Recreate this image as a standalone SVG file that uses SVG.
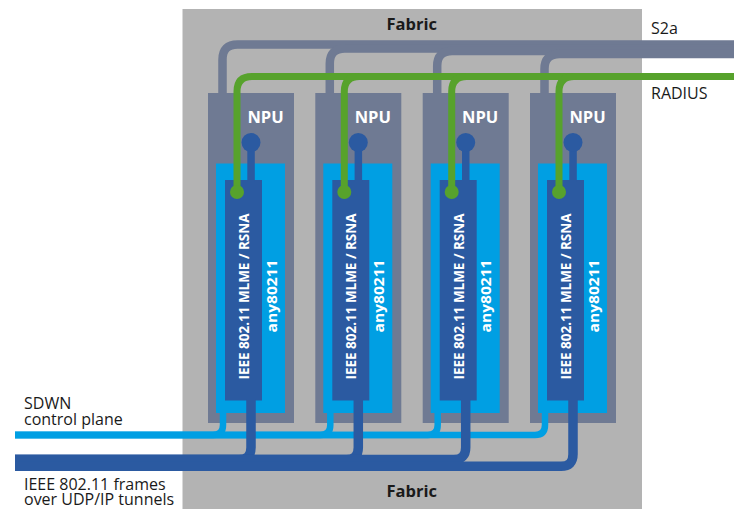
<svg xmlns="http://www.w3.org/2000/svg" width="734" height="509" viewBox="0 0 734 509">
<style>
.lbl{font-family:"Open Sans","Noto Sans","Liberation Sans",sans-serif;font-size:16px;fill:#1a1a1a}
.fab{font-family:"Open Sans","Noto Sans","Liberation Sans",sans-serif;font-size:16.5px;font-weight:bold;fill:#1a1a1a}
.npu{fill:#6f7a93}
.lb{fill:#009fe3}
.db{fill:#2b5aa1}
.wt{font-family:"Open Sans","Noto Sans","Liberation Sans",sans-serif;font-weight:bold;fill:#ffffff}
.s2a{fill:none;stroke:#6f7a93;stroke-width:8.5}
.rad{fill:none;stroke:#57a22c;stroke-width:7}
.ctl{fill:none;stroke:#009fe3;stroke-width:6.5}
.frm{fill:none;stroke:#2b5aa1;stroke-width:9.5}
</style>
<defs>
<g id="npuTpl">
<rect class="npu" x="208" y="93" width="86" height="330"/>
<rect class="lb" x="216" y="163.5" width="69" height="249.5"/>
<rect class="db" x="225" y="180" width="37" height="220.5"/>
<rect class="db" x="247.3" y="142" width="7.5" height="40"/>
<circle class="db" cx="251" cy="142.5" r="9.5"/>
<text class="wt" x="265.5" y="123" font-size="16.5" text-anchor="middle">NPU</text>
<text class="wt" transform="translate(249,296.5) rotate(-90)" font-size="14.5" text-anchor="middle" textLength="166" lengthAdjust="spacingAndGlyphs">IEEE 802.11 MLME / RSNA</text>
<text class="wt" transform="translate(276.5,296) rotate(-90)" font-size="15" text-anchor="middle" textLength="73" lengthAdjust="spacingAndGlyphs">any80211</text>
</g>
</defs>
<rect id="fabric" x="182.5" y="9" width="459.5" height="500" fill="#b3b3b3"/>
<text class="fab" x="411.7" y="30" text-anchor="middle">Fabric</text>
<text class="fab" x="411.7" y="497" text-anchor="middle">Fabric</text>

<g id="npu1"><use href="#npuTpl"/></g>
<g id="npu2"><use href="#npuTpl" transform="translate(107.3,0)"/></g>
<g id="npu3"><use href="#npuTpl" transform="translate(214.7,0)"/></g>
<g id="npu4"><use href="#npuTpl" transform="translate(322,0)"/></g>

<g id="connectors">
<path class="s2a" d="M222.5,93 V59.5 Q222.5,44.5 237.5,44.5 H734"/>
<path class="s2a" d="M329.8,93 V63.5 Q329.8,48.5 344.8,48.5 H734"/>
<path class="s2a" d="M437.2,93 V66 Q437.2,51 452.2,51 H734"/>
<path class="s2a" d="M544.5,93 V69 Q544.5,54 559.5,54 H734"/>

<path class="rad" d="M237,192 V91.5 Q237,76.5 252,76.5 H734"/>
<path class="rad" d="M344.3,192 V91.5 Q344.3,76.5 359.3,76.5 H734"/>
<path class="rad" d="M451.7,192 V91.5 Q451.7,76.5 466.7,76.5 H734"/>
<path class="rad" d="M559,192 V91.5 Q559,76.5 574,76.5 H734"/>
<circle cx="237" cy="192" r="7" fill="#57a22c"/>
<circle cx="344.3" cy="192" r="7" fill="#57a22c"/>
<circle cx="451.7" cy="192" r="7" fill="#57a22c"/>
<circle cx="559" cy="192" r="7" fill="#57a22c"/>

<path class="ctl" d="M223,412 V425 Q223,435 213,435 H15"/>
<path class="ctl" d="M330.3,412 V425 Q330.3,435 320.3,435 H15"/>
<path class="ctl" d="M437.7,412 V425 Q437.7,435 427.7,435 H15"/>
<path class="ctl" d="M545,412 V425 Q545,435 535,435 H15"/>

<path class="frm" d="M251,399 V447.5 Q251,459.5 239,459.5 H15"/>
<path class="frm" d="M358.3,399 V447.5 Q358.3,459.5 346.3,459.5 H15"/>
<path class="frm" d="M465.7,399 V447.5 Q465.7,459.5 453.7,459.5 H15"/>
<path class="frm" d="M573,399 V454.3 Q573,466.3 561,466.3 H15"/>
</g>

<text class="lbl" x="651" y="33.5">S2a</text>
<text class="lbl" x="651" y="98.5">RADIUS</text>
<text class="lbl" x="24" y="408.5">SDWN</text>
<text class="lbl" x="24" y="424.5">control plane</text>
<text class="lbl" x="24" y="490">IEEE 802.11 frames</text>
<text class="lbl" x="24" y="505">over UDP/IP tunnels</text>
</svg>
